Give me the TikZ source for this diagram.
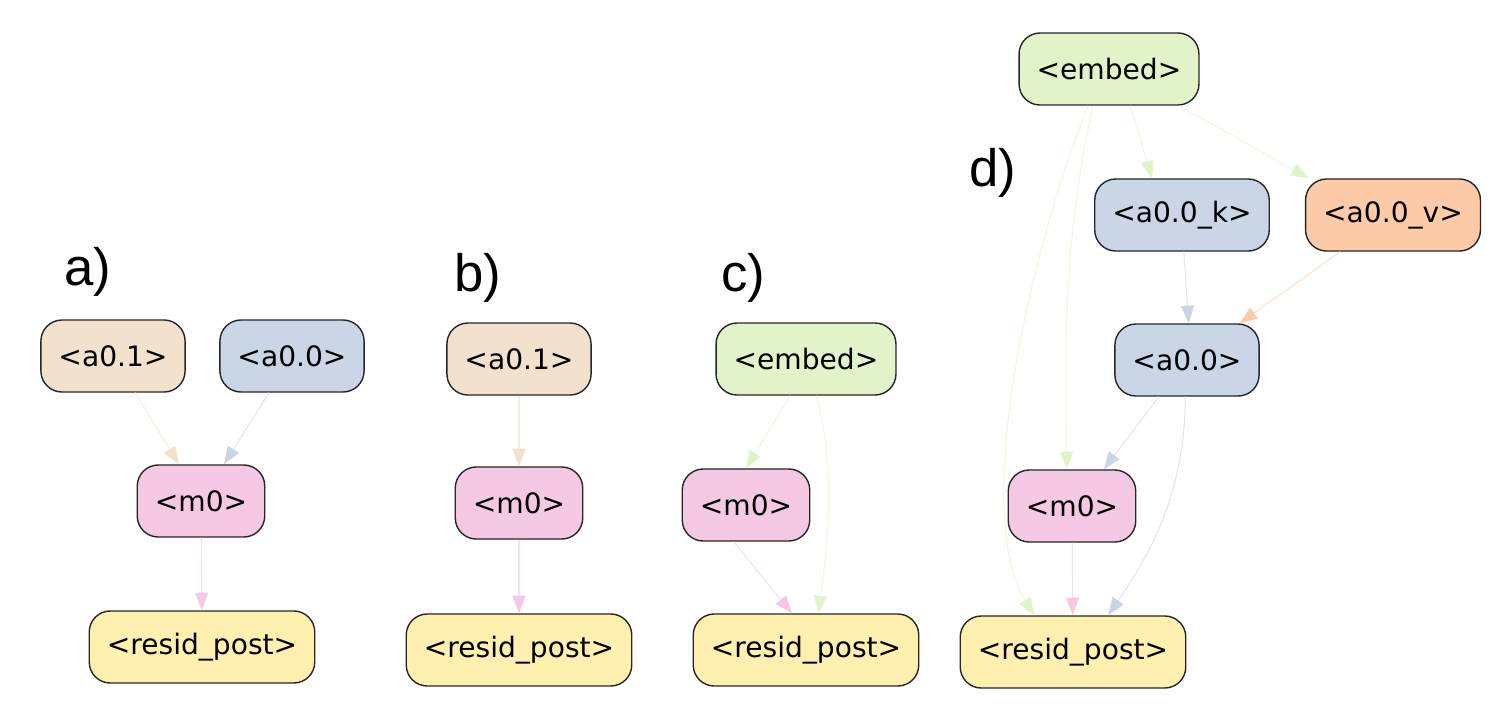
\documentclass[tikz,border=0pt]{standalone}
\usepackage{fontspec}
\setmainfont{DejaVu Sans}
\newfontfamily\labelfont{Liberation Sans}
\usetikzlibrary{positioning,arrows.meta}
\definecolor{tanfill}{RGB}{242,225,204}
\definecolor{bluefill}{RGB}{202,213,230}
\definecolor{pinkfill}{RGB}{245,201,227}
\definecolor{yellowfill}{RGB}{255,240,176}
\definecolor{greenfill}{RGB}{226,243,202}
\definecolor{orangefill}{RGB}{254,203,168}

\begin{document}
\begin{tikzpicture}[
    x=0.02cm, y=-0.02cm,
    block/.style={
        draw=black!85,
        line width=0.8pt,
        rounded corners=12pt,
        font=\fontsize{16}{18}\selectfont,
        inner xsep=10pt,
        minimum height=41pt
    },
    panel/.style={font=\labelfont\fontsize{30}{34}\selectfont},
    edge/.style={line width=0.6pt, draw=#1!60,
        -{Triangle[length=10pt,width=7.5pt,color=#1]}}
]
\useasboundingbox (0,0) rectangle (1491,718);

% PANEL A
\node[panel] (la) at (88,272) {a)};
\node[block, fill=tanfill]    (a01a)  at (113,356) {<a0.1>};
\node[block, fill=bluefill]   (a00a)  at (292,356) {<a0.0>};
\node[block, fill=pinkfill]   (m0a)   at (201,501) {<m0>};
\node[block, fill=yellowfill] (resa)  at (202,647) {<resid\_post>};

\draw[edge=tanfill]  (a01a) -- (m0a);
\draw[edge=bluefill] (a00a) -- (m0a);
\draw[edge=pinkfill] (m0a) -- (resa);

% PANEL B
\node[panel] (lb) at (478,278) {b)};
\node[block, fill=tanfill]    (a01b)  at (519,359) {<a0.1>};
\node[block, fill=pinkfill]   (m0b)   at (519,503) {<m0>};
\node[block, fill=yellowfill] (resb)  at (519,650) {<resid\_post>};

\draw[edge=tanfill]  (a01b) -- (m0b);
\draw[edge=pinkfill] (m0b) -- (resb);

% PANEL C
\node[panel] (lc) at (743,278) {c)};
\node[block, fill=greenfill]  (embc)  at (806,359) {<embed>};
\node[block, fill=pinkfill]   (m0c)   at (746,505) {<m0>};
\node[block, fill=yellowfill] (resc)  at (806,650) {<resid\_post>};

\draw[edge=greenfill] ([xshift=-9pt]embc.south) -- (m0c.north);
\draw[edge=pinkfill]  ([xshift=-7pt]m0c.south) -- ([xshift=-8pt]resc.north);
\draw[edge=greenfill] ([xshift=6pt]embc.south)
    .. controls (836,470) and (828,540) .. ([xshift=7pt]resc.north);

% PANEL D
\node[panel] (ld) at (993,173) {d)};
\node[block, fill=greenfill]  (embd)  at (1109,69)  {<embed>};
\node[block, fill=bluefill]   (ak)    at (1182,215) {<a0.0\_k>};
\node[block, fill=orangefill] (av)    at (1393,215) {<a0.0\_v>};
\node[block, fill=bluefill]   (a00d)  at (1187,360) {<a0.0>};
\node[block, fill=pinkfill]   (m0d)   at (1072,506) {<m0>};
\node[block, fill=yellowfill] (resd)  at (1073,652) {<resid\_post>};

\draw[edge=greenfill] ([xshift=12pt]embd.south) -- ([xshift=-17pt]ak.north);
\draw[edge=greenfill] ([xshift=40pt]embd.south) -- ([xshift=-48pt]av.north);
\draw[edge=bluefill]  ([xshift=1pt]ak.south) -- ([xshift=1pt]a00d.north);
\draw[edge=orangefill] ([xshift=-30pt]av.south) -- ([xshift=30pt]a00d.north);
\draw[edge=bluefill]  ([xshift=-16pt]a00d.south) -- ([xshift=18pt]m0d.north);
\draw[edge=greenfill] ([xshift=-9pt]embd.south)
    .. controls (1060,250) and (1066,380) .. ([xshift=-3pt]m0d.north);
\draw[edge=greenfill] ([xshift=-12pt]embd.south)
    .. controls (1020,280) and (975,520) .. ([xshift=-22pt]resd.north);
\draw[edge=bluefill]  ([xshift=-1pt]a00d.south)
    .. controls (1185,480) and (1160,540) .. ([xshift=20pt]resd.north);
\draw[edge=pinkfill]  (m0d) -- (resd);

\end{tikzpicture}
\end{document}
